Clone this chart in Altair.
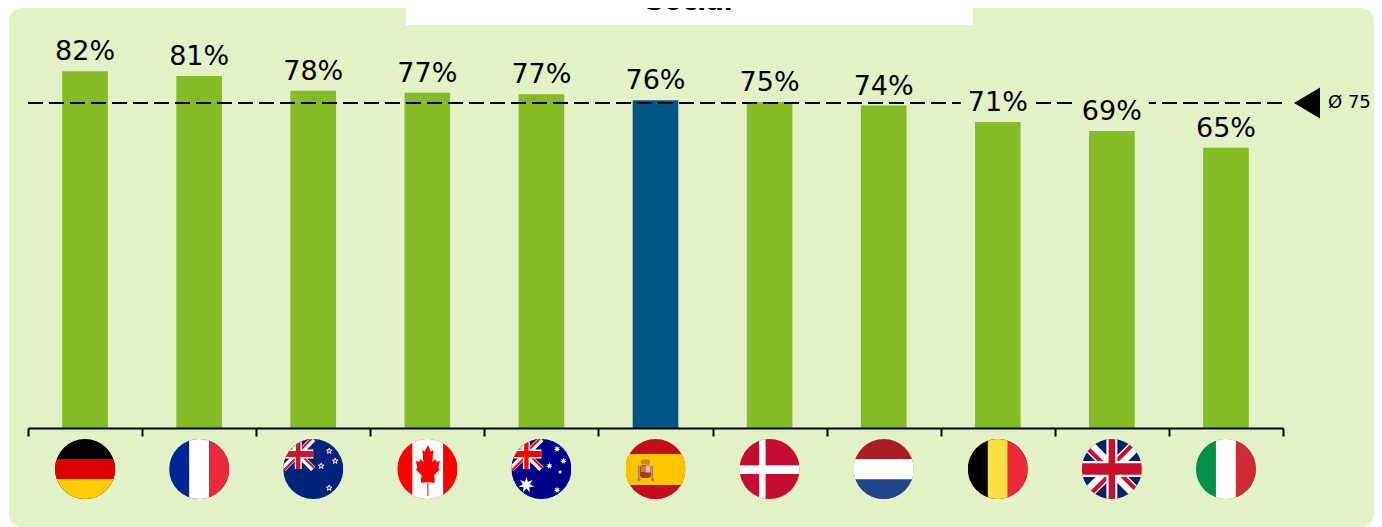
import base64
import math
import altair as alt
import pandas as pd

countries = ["Germany", "France", "New Zealand", "Canada", "Australia", "Spain",
             "Denmark", "Netherlands", "Belgium", "United Kingdom", "Italy"]
codes = ["de", "fr", "nz", "ca", "au", "es", "dk", "nl", "be", "gb", "it"]
values = [82.4, 81.3, 77.9, 77.4, 77.1, 75.7, 75.3, 74.47, 70.7, 68.6, 64.7]
highlight = "Spain"
mean_value = 75.06
mean_label = "Ø 75"
title_text = "Social"

PANEL = "#E3F1C6"
GREEN = "#85BC25"
BLUE = "#005687"
FONT = "DejaVu Sans"


def stripes_h(a, b, c, y1=20, y2=40):
    return (f'<rect width="60" height="60" fill="{a}"/>'
            f'<rect y="{y1}" width="60" height="{y2 - y1}" fill="{b}"/>'
            f'<rect y="{y2}" width="60" height="{60 - y2}" fill="{c}"/>')


def stripes_v(a, b, c, x1=20, x2=40):
    return (f'<rect width="60" height="60" fill="{a}"/>'
            f'<rect x="{x1}" width="{x2 - x1}" height="60" fill="{b}"/>'
            f'<rect x="{x2}" width="{60 - x2}" height="60" fill="{c}"/>')


def jack(w, h, red):
    """Diagonal part of the Union Jack in a w x h box, with the counterchanged red arms."""
    sd = w * 0.2
    rd = w * 0.07
    d = w * 0.03
    cx, cy = w / 2, h / 2
    s = f'<path d="M0 0L{w} {h}M{w} 0L0 {h}" stroke="#fff" stroke-width="{sd}" fill="none"/>'
    arms = [(0, 0, -d, d), (w, 0, -d, -d), (w, h, d, -d), (0, h, d, d)]
    for ex, ey, dx, dy in arms:
        s += (f'<path d="M{cx + dx} {cy + dy}L{ex + dx} {ey + dy}" stroke="{red}" '
              f'stroke-width="{rd}" fill="none"/>')
    return s


def cross(w, h, vw, hw, color):
    return (f'<rect x="{w / 2 - vw / 2}" width="{vw}" height="{h}" fill="{color}"/>'
            f'<rect y="{h / 2 - hw / 2}" width="{w}" height="{hw}" fill="{color}"/>')


def star(cx, cy, r, fill, stroke="none", points=5, inner=0.42, sw=0.7):
    pts = []
    for k in range(points * 2):
        rad = r if k % 2 == 0 else r * inner
        ang = -math.pi / 2 + k * math.pi / points
        pts.append(f"{cx + rad * math.cos(ang):.2f},{cy + rad * math.sin(ang):.2f}")
    return f'<polygon points="{" ".join(pts)}" fill="{fill}" stroke="{stroke}" stroke-width="{sw}"/>'


def canton(blue, red):
    return (f'<rect width="30" height="30" fill="{blue}"/>' + jack(30, 30, red)
            + cross(30, 30, 7, 9, "#fff") + cross(30, 30, 4.4, 6, red))


leaf_l = [(30.5, 6), (27.5, 12.5), (25, 11), (26, 23), (23, 20), (22, 23), (18.5, 22),
          (20, 29), (18.5, 30.5), (24.5, 36.5), (23.5, 40), (24, 44), (30, 43), (30, 57)]
leaf_r = [(61 - x, y) for x, y in reversed(leaf_l)]
leaf = " ".join(f"{x},{y}" for x, y in leaf_l + leaf_r)

crest = (
    '<rect x="15.5" y="20.5" width="9" height="5" rx="2" fill="#C8861E"/>'
    '<rect x="14.5" y="26" width="11" height="13" rx="3" fill="#AD3A19"/>'
    '<rect x="20" y="26.5" width="5" height="7" fill="#E8B7C0"/>'
    '<rect x="15.5" y="27" width="4.5" height="6" fill="#C8861E"/>'
    '<rect x="12.5" y="27" width="1.6" height="13" fill="#A8863C"/>'
    '<rect x="26" y="27" width="1.6" height="13" fill="#A8863C"/>'
    '<rect x="12" y="39.5" width="3" height="2.5" fill="#7F8F6A"/>'
    '<rect x="25.5" y="39.5" width="3" height="2.5" fill="#7F8F6A"/>'
)

flag_art = {
    "de": stripes_h("#000000", "#DD0000", "#FFCE00"),
    "fr": stripes_v("#002395", "#FFFFFF", "#ED2939"),
    "nz": '<rect width="60" height="60" fill="#00247D"/>' + canton("#00247D", "#CC142B")
          + "".join(star(x, y, 3, "#CC142B", "#fff", sw=0.9) for x, y in [(46, 12), (52, 22), (38, 27), (46, 49)]),
    "ca": stripes_v("#FF0000", "#FFFFFF", "#FF0000", 15, 46) + f'<polygon points="{leaf}" fill="#FF0000"/>',
    "au": '<rect width="60" height="60" fill="#00008B"/>' + canton("#00008B", "#FF0000")
          + star(15, 46, 8, "#fff", points=7, inner=0.45)
          + "".join(star(x, y, r, "#fff", points=7, inner=0.45) for x, y, r in
                    [(45.7, 10, 3.4), (52, 22, 3.4), (38, 27, 3.4), (48.7, 33, 2.2), (45.7, 51, 3.4)]),
    "es": stripes_h("#C60B1E", "#FFC400", "#C60B1E", 15, 46) + crest,
    "dk": '<rect width="60" height="60" fill="#C60C30"/>'
          '<rect x="19.5" width="6.5" height="60" fill="#fff"/>'
          '<rect y="26.3" width="60" height="8.7" fill="#fff"/>',
    "nl": stripes_h("#AE1C28", "#FFFFFF", "#21468B", 20, 40.5),
    "be": stripes_v("#000000", "#FAE042", "#ED2939"),
    "gb": '<rect width="60" height="60" fill="#012169"/>' + jack(60, 60, "#C8102E")
          + cross(60, 60, 11, 16, "#fff") + cross(60, 60, 6.5, 11.5, "#C8102E"),
    "it": stripes_v("#009246", "#FFFFFF", "#CE2B37"),
}


def flag_uri(code):
    svg = ('<svg xmlns="http://www.w3.org/2000/svg" width="60" height="60" viewBox="0 0 60 60">'
           '<clipPath id="c"><circle cx="30" cy="30" r="30"/></clipPath>'
           f'<g clip-path="url(#c)">{flag_art[code]}</g></svg>')
    return "data:image/svg+xml;base64," + base64.b64encode(svg.encode()).decode()


df = pd.DataFrame({"country": countries, "value": values, "slot": range(len(countries))})
df["start"] = df["slot"] + 0.3
df["end"] = df["slot"] + 0.7
df["center"] = df["slot"] + 0.5
df["label"] = df["value"].round().astype(int).astype(str) + "%"
df["flag"] = [flag_uri(c) for c in codes]
df["kind"] = ["hl" if c == highlight else "other" for c in countries]

one = alt.Data(values=[{"mean": mean_value, "label": mean_label, "title": title_text}])

W, H = 1255, 420
x_scale = alt.Scale(domain=[0, len(countries)], nice=False, zero=False)
y_scale = alt.Scale(domain=[0, 97], nice=False)

panel = alt.Chart(one).mark_rect(color=PANEL, cornerRadius=13).encode(
    x=alt.value(-19), x2=alt.value(1346), y=alt.value(0), y2=alt.value(519))

title_box = alt.Chart(one).mark_rect(color="#FFFFFF").encode(
    x=alt.value(378), x2=alt.value(945), y=alt.value(0), y2=alt.value(17))

title = alt.Chart(one).mark_text(
    font=FONT, fontWeight="bold", fontSize=26, color="#000000", baseline="alphabetic", align="center"
).encode(x=alt.value(661), y=alt.value(1.5), text="title:N")

bars = alt.Chart(df).mark_rect().encode(
    x=alt.X("start:Q", scale=x_scale, title=None,
            axis=alt.Axis(values=list(range(len(countries) + 1)), labels=False, grid=False, title=None,
                          domainColor="#000000", domainWidth=2, tickColor="#000000", tickWidth=2,
                          tickSize=8, zindex=1)),
    x2="end:Q",
    y=alt.Y("value:Q", scale=y_scale, axis=None),
    y2=alt.datum(0),
    color=alt.Color("kind:N", scale=alt.Scale(domain=["other", "hl"], range=[GREEN, BLUE]), legend=None),
)

mean_line = alt.Chart(one).mark_rule(color="#000000", strokeWidth=2, strokeDash=[15, 6]).encode(
    x=alt.value(0), x2=alt.value(W), y=alt.Y("mean:Q", scale=y_scale, axis=None))

mean_marker = alt.Chart(one).mark_point(
    shape="M1,-1.19L-1,0L1,1.19Z", size=676, filled=True, color="#000000", opacity=1
).encode(x=alt.value(1279), y=alt.Y("mean:Q", scale=y_scale, axis=None))

mean_text = alt.Chart(one).mark_text(
    font=FONT, fontSize=18, color="#000000", align="left", baseline="middle"
).encode(x=alt.value(1300), y=alt.Y("mean:Q", scale=y_scale, axis=None), text="label:N")

label_bg = alt.Chart(df).mark_rect(color=PANEL, width=74, height=24, yOffset=-20).encode(
    x=alt.X("center:Q", scale=x_scale), y=alt.Y("value:Q", scale=y_scale, axis=None))

labels = alt.Chart(df).mark_text(
    font=FONT, fontSize=27, color="#000000", align="center", baseline="alphabetic", dy=-11
).encode(x=alt.X("center:Q", scale=x_scale), y=alt.Y("value:Q", scale=y_scale, axis=None), text="label:N")

flags = alt.Chart(df).mark_image(width=60, height=60).encode(
    x=alt.X("center:Q", scale=x_scale), y=alt.value(461), url="flag:N")

chart = alt.layer(panel, title_box, title, bars, mean_line, mean_marker, mean_text, label_bg, labels, flags).properties(
    width=W, height=H,
    autosize=alt.AutoSizeParams(type="none"),
    padding={"left": 20, "top": 0, "right": 91, "bottom": 99},
    background="#FFFFFF",
).configure_view(stroke=None)

chart.save("out.html", embed_options={"renderer": "svg", "actions": False})
